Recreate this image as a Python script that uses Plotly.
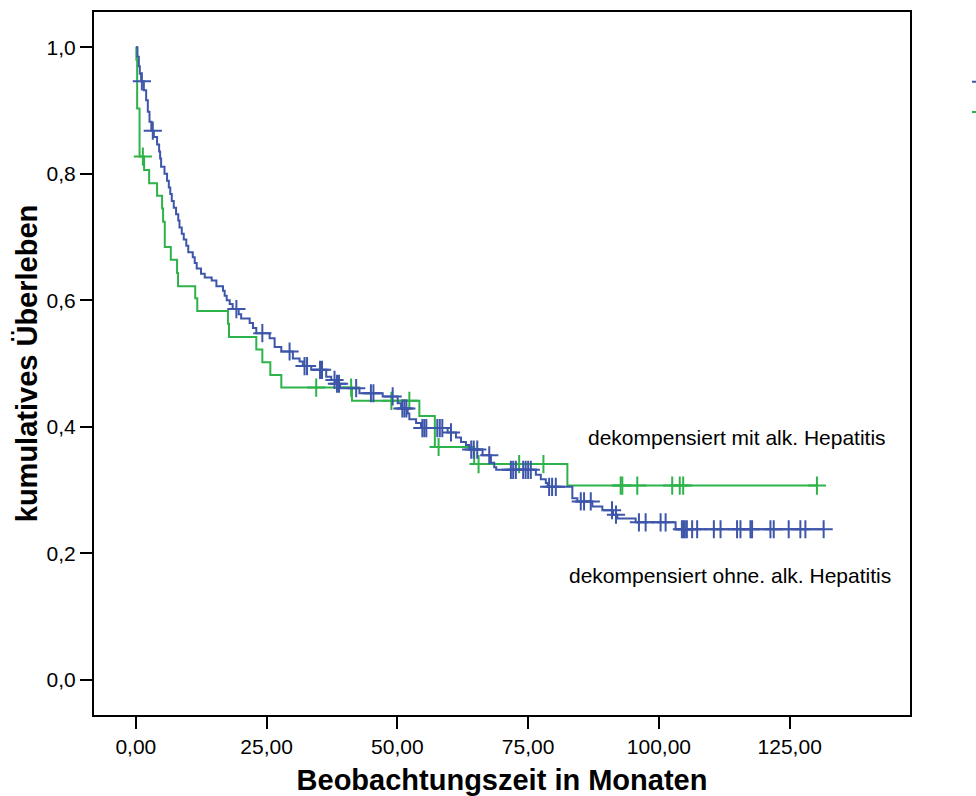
import numpy as np
import plotly.graph_objects as go

# ---------------- data ----------------
# Kaplan-Meier step points: time of event (months) and survival after the event
blue_name = "dekompensiert ohne. alk. Hepatitis"
blue_t = [0, 0.31, 0.57, 0.76, 1.01, 1.53, 1.97, 2.29, 2.61, 2.96, 3.44, 4.06, 4.45, 4.64,
          4.83, 5.48, 5.97, 6.30, 6.58, 6.87, 7.25, 7.69, 8.11, 8.34, 8.78, 9.16, 9.64,
          10.02, 10.88, 11.26, 11.64, 12.46, 13.17, 14.50, 15.40, 16.66, 16.98, 17.37,
          17.94, 18.51, 19.66, 20.13, 21.76, 22.39, 23.03, 25.57, 26.53, 27.81, 30.02,
          31.30, 31.93, 33.53, 36.39, 37.35, 38.17, 39.06, 42.75, 47.19, 50.06, 50.71,
          51.97, 52.29, 53.57, 54.52, 59.60, 61.20, 62.16, 63.11, 63.74, 66.28, 67.88,
          68.51, 68.89, 76.47, 77.42, 78.38, 78.72, 83.45, 84.41, 87.27, 89.18, 91.22,
          92.05, 95.55, 103.19]
blue_s = [1.0, 0.985, 0.970, 0.958, 0.946, 0.932, 0.916, 0.898, 0.882, 0.868, 0.858, 0.846,
          0.835, 0.824, 0.811, 0.800, 0.789, 0.778, 0.768, 0.757, 0.746, 0.736, 0.726, 0.715,
          0.705, 0.696, 0.686, 0.676, 0.668, 0.659, 0.650, 0.642, 0.636, 0.631, 0.622, 0.615,
          0.607, 0.600, 0.594, 0.586, 0.578, 0.571, 0.564, 0.556, 0.548, 0.540, 0.526, 0.519,
          0.508, 0.503, 0.496, 0.490, 0.479, 0.474, 0.468, 0.461, 0.453, 0.448, 0.437, 0.429,
          0.421, 0.412, 0.406, 0.398, 0.391, 0.383, 0.376, 0.371, 0.364, 0.355, 0.343, 0.336,
          0.332, 0.324, 0.317, 0.311, 0.305, 0.287, 0.282, 0.274, 0.268, 0.261, 0.255, 0.249,
          0.238]
blue_censored = [1.15, 3.24, 19.22, 24.18, 29.39, 32.25, 32.73, 35.21, 35.59, 37.98, 38.45,
                 38.84, 42.12, 44.94, 45.42, 49.10, 50.95, 51.34, 51.72, 54.77, 55.15, 55.53,
                 57.63, 58.11, 58.59, 60.25, 64.12, 64.60, 65.27, 67.56, 71.70, 72.14, 72.65,
                 74.05, 74.52, 75.00, 75.51, 79.01, 79.58, 80.29, 85.06, 85.69, 86.97, 91.03,
                 91.79, 96.18, 97.46, 100.32, 101.28, 104.39, 104.68, 104.96, 105.34, 106.35,
                 107.31, 110.50, 111.78, 114.94, 115.59, 117.50, 117.81, 121.32, 121.95,
                 124.81, 127.04, 128.00, 131.49]

green_name = "dekompensiert mit alk. Hepatitis"
green_t = [0, 0.10, 0.25, 0.71, 1.58, 2.54, 4.06, 5.02, 5.21, 5.53, 6.68, 7.88, 8.07, 11.35,
           11.74, 17.61, 17.81, 23.03, 24.18, 25.71, 27.81, 41.32, 54.20, 57.16, 64.69, 82.50]
green_s = [1.0, 0.980, 0.903, 0.827, 0.806, 0.785, 0.765, 0.745, 0.724, 0.684, 0.664, 0.643,
           0.622, 0.603, 0.583, 0.563, 0.542, 0.522, 0.502, 0.482, 0.462, 0.441, 0.417, 0.368,
           0.341, 0.307]
green_censored = [1.34, 34.48, 41.16, 48.85, 52.29, 57.88, 65.52, 73.28, 77.92, 92.69, 93.00,
                  95.86, 102.54, 103.98, 104.64, 130.21]

x_tickvals = [0, 25, 50, 75, 100, 125]
x_ticktext = ["0,00", "25,00", "50,00", "75,00", "100,00", "125,00"]
y_tickvals = [0.0, 0.2, 0.4, 0.6, 0.8, 1.0]
y_ticktext = ["0,0", "0,2", "0,4", "0,6", "0,8", "1,0"]

BLUE = "#3D56AA"
GREEN = "#2DB34A"
FONT = "Liberation Sans, Arial, sans-serif"


def step_value(ts, ss, t):
    i = np.searchsorted(np.asarray(ts), t, side="right") - 1
    return np.asarray(ss)[i]


def km_traces(ts, ss, cens, color, name):
    xs = list(ts) + [max(cens)]
    ys = list(ss) + [ss[-1]]
    line = go.Scatter(x=xs, y=ys, mode="lines", line=dict(color=color, width=2, shape="hv"),
                      name=name, showlegend=True, hoverinfo="skip")
    cy = [float(step_value(ts, ss, c)) for c in cens]
    marks = go.Scatter(x=cens, y=cy, mode="markers", showlegend=False,
                       marker=dict(symbol="cross-thin", size=13, color=color,
                                   line=dict(color=color, width=2)),
                       name=name + " zensiert", hoverinfo="skip")
    return line, marks


fig = go.Figure()
g_line, g_marks = km_traces(green_t, green_s, green_censored, GREEN, green_name)
b_line, b_marks = km_traces(blue_t, blue_s, blue_censored, BLUE, blue_name)
for tr in (g_line, g_marks, b_line, b_marks):
    fig.add_trace(tr)

fig.add_annotation(x=114.9, y=0.383, xref="x", yref="y", text=green_name, showarrow=False,
                   font=dict(family=FONT, size=21, color="#000"))
fig.add_annotation(x=113.6, y=0.165, xref="x", yref="y", text=blue_name, showarrow=False,
                   font=dict(family=FONT, size=21, color="#000"))

axis_common = dict(showgrid=False, zeroline=False, showline=True, linecolor="#000",
                   linewidth=2, mirror=True, ticks="outside", ticklen=12, tickwidth=2,
                   tickcolor="#000", tickfont=dict(family=FONT, size=21, color="#000"))

fig.update_xaxes(range=[-8, 148], tickvals=x_tickvals, ticktext=x_ticktext,
                 title=dict(text="<b>Beobachtungszeit in Monaten</b>",
                            font=dict(family=FONT, size=29, color="#000"), standoff=17),
                 **axis_common)
fig.update_yaxes(range=[-0.0556, 1.0556], tickvals=y_tickvals, ticktext=y_ticktext,
                 title=dict(text="<b>kumulatives Überleben</b>",
                            font=dict(family=FONT, size=29, color="#000"), standoff=0),
                 **axis_common)

fig.update_layout(
    width=976, height=796,
    margin=dict(l=94, r=66, t=12, b=81, autoexpand=False),
    paper_bgcolor="white", plot_bgcolor="white",
    font=dict(family=FONT, color="#000"),
    legend=dict(x=1.0699, y=0.9296, xanchor="left", yanchor="top", traceorder="reversed",
                font=dict(family=FONT, size=21, color="#000"), bgcolor="rgba(0,0,0,0)"),
)

fig.write_html("out.html")
